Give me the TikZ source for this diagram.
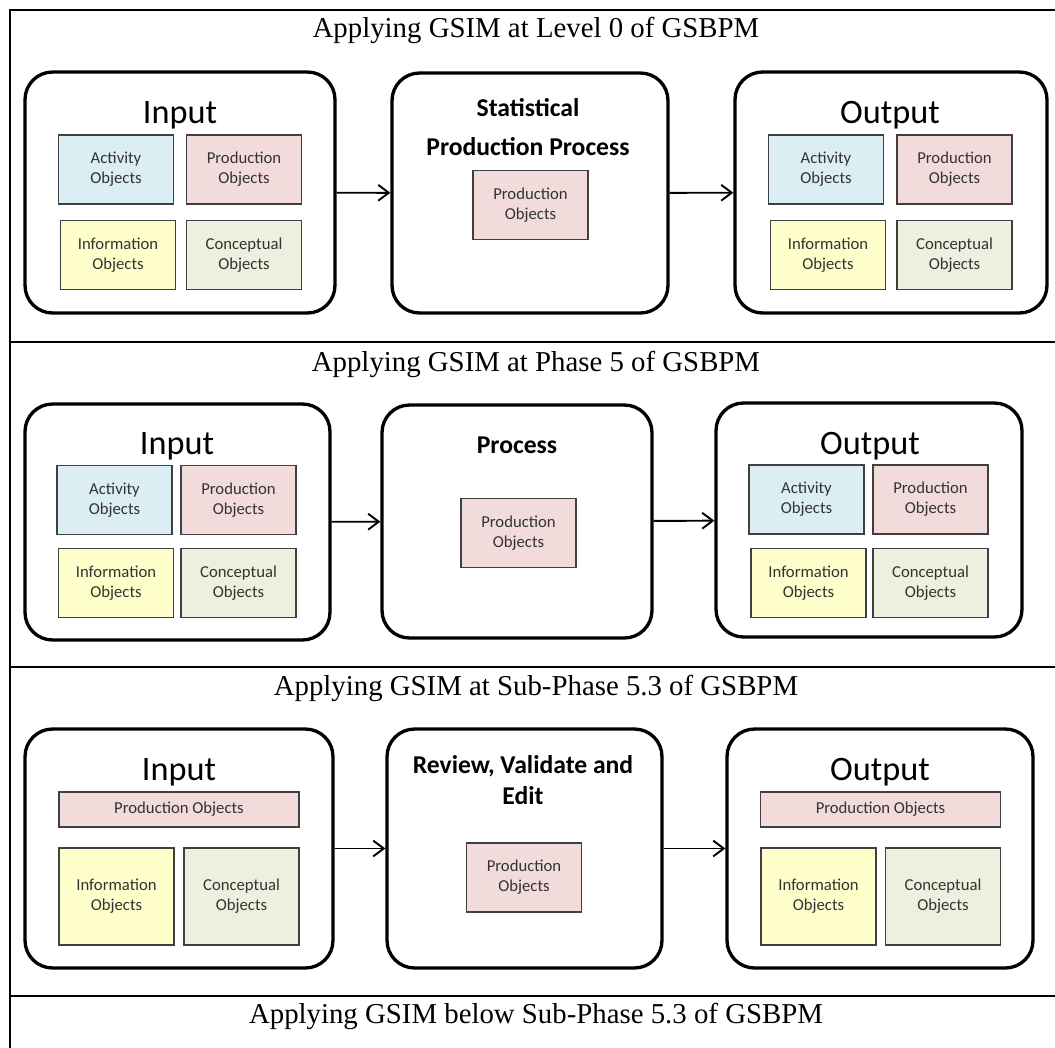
\documentclass[tikz,border=0pt]{standalone}
\usepackage{fontspec}
\setmainfont{Carlito}
\newfontfamily\ttlfont{Liberation Serif}
\usepackage{tikz}
\usetikzlibrary{arrows.meta}
\definecolor{actC}{HTML}{DAEEF3}
\definecolor{prodC}{HTML}{F2DCDB}
\definecolor{infoC}{HTML}{FFFFCC}
\definecolor{concC}{HTML}{EBF1DE}
\tikzset{
  ttl/.style={font=\ttlfont\fontsize{16.4}{19}\selectfont, anchor=base},
  stage/.style={draw, line width=1.9pt, rounded corners=0.55cm},
  head/.style={font=\fontsize{19.5}{22}\selectfont, anchor=base},
  proc/.style={font=\bfseries\fontsize{14.6}{22}\selectfont, align=center, anchor=base},
  obj/.style={draw=black!75, line width=0.8pt, minimum width=2.3cm, minimum height=1.38cm,
    align=center, text=black!80, font=\fontsize{9.5}{11.3}\selectfont},
  flow/.style={-{Straight Barb[length=6pt,width=9pt]}, line width=1.1pt},
  rule/.style={line width=1.1pt}
}

\begin{document}
\begin{tikzpicture}[x=0.02cm, y=-0.02cm]
\useasboundingbox (0,0) rectangle (1055,1048);
% table rules
\draw[rule] (10,1048) -- (10,10) -- (1055,10);
\draw[rule] (10,342) -- (1055,342);
\draw[rule] (10,667) -- (1055,667);
\draw[rule] (10,996) -- (1055,996);
\node[ttl] (t1) at (536,37) {Applying GSIM at Level 0 of GSBPM};
\node[ttl] (t2) at (536,371) {Applying GSIM at Phase 5 of GSBPM};
\node[ttl] (t3) at (536,695) {Applying GSIM at Sub-Phase 5.3 of GSBPM};
\node[ttl] (t4) at (536,1023) {Applying GSIM below Sub-Phase 5.3 of GSBPM};

% level 0
\node[stage, minimum width=6.2cm, minimum height=4.82cm] (in1) at (180,192.5) {};
\node[head] (in1h) at (180,123) {Input};
\node[obj, fill=actC] (in1a) at (116,169.5) {Activity\\Objects};
\node[obj, fill=prodC] (in1p) at (244,169.5) {Production\\Objects};
\node[obj, fill=infoC] (in1i) at (118,255) {Information\\Objects};
\node[obj, fill=concC] (in1c) at (244,255) {Conceptual\\Objects};
\node[stage, minimum width=5.52cm, minimum height=4.8cm] (mid1) at (530,193) {};
\node[proc] (mid1h) at (528,155) {Statistical\\Production Process};
\node[obj, fill=prodC] (mid1p) at (530.5,205) {Production\\Objects};
\node[stage, minimum width=6.24cm, minimum height=4.82cm] (out1) at (891,192.5) {};
\node[head] (out1h) at (890,123) {Output};
\node[obj, fill=actC] (out1a) at (826,169.5) {Activity\\Objects};
\node[obj, fill=prodC] (out1p) at (954.5,169.5) {Production\\Objects};
\node[obj, fill=infoC] (out1i) at (828,255) {Information\\Objects};
\node[obj, fill=concC] (out1c) at (954.5,255) {Conceptual\\Objects};
\draw[flow] (in1) -- (mid1);
\draw[flow] (mid1) -- (out1);

% phase 5
\node[stage, minimum width=6.1cm, minimum height=4.72cm] (in2) at (177.5,522) {};
\node[head] (in2h) at (177,454) {Input};
\node[obj, fill=actC] (in2a) at (114.5,500) {Activity\\Objects};
\node[obj, fill=prodC] (in2p) at (238.5,500) {Production\\Objects};
\node[obj, fill=infoC] (in2i) at (116,583) {Information\\Objects};
\node[obj, fill=concC] (in2c) at (238.5,583) {Conceptual\\Objects};
\node[stage, minimum width=5.4cm, minimum height=4.66cm] (mid2) at (517,521.5) {};
\node[proc] (mid2h) at (517,453) {Process};
\node[obj, fill=prodC] (mid2p) at (518.5,533) {Production\\Objects};
\node[stage, minimum width=6.12cm, minimum height=4.68cm] (out2) at (869,520) {};
\node[head] (out2h) at (870,454) {Output};
\node[obj, fill=actC] (out2a) at (806.5,499.5) {Activity\\Objects};
\node[obj, fill=prodC] (out2p) at (930.5,499.5) {Production\\Objects};
\node[obj, fill=infoC] (out2i) at (808.5,583) {Information\\Objects};
\node[obj, fill=concC] (out2c) at (930.5,583) {Conceptual\\Objects};
\draw[flow] (in2) -- (mid2);
\draw[flow] (mid2) -- (out2);

% sub-phase 5.3
\node[stage, minimum width=6.16cm, minimum height=4.78cm] (in3) at (179,848.5) {};
\node[head] (in3h) at (179,780) {Input};
\node[obj, fill=prodC, minimum width=4.8cm, minimum height=0.7cm] (in3p) at (179,809.5) {Production Objects};
\node[obj, fill=infoC, minimum height=1.94cm] (in3i) at (116.5,896.5) {Information\\Objects};
\node[obj, fill=concC, minimum height=1.94cm] (in3c) at (241.5,896.5) {Conceptual\\Objects};
\node[stage, minimum width=5.5cm, minimum height=4.78cm] (mid3) at (524.5,848.5) {};
\node[proc, font=\bfseries\fontsize{14.6}{17.6}\selectfont] (mid3h) at (523,804) {Review, Validate and\\Edit};
\node[obj, fill=prodC] (mid3p) at (524,877.5) {Production\\Objects};
\node[stage, minimum width=6.12cm, minimum height=4.78cm] (out3) at (880,848.5) {};
\node[head] (out3h) at (880,780) {Output};
\node[obj, fill=prodC, minimum width=4.8cm, minimum height=0.7cm] (out3p) at (880.5,809.5) {Production Objects};
\node[obj, fill=infoC, minimum height=1.94cm] (out3i) at (818.5,896.5) {Information\\Objects};
\node[obj, fill=concC, minimum height=1.94cm] (out3c) at (943,896.5) {Conceptual\\Objects};
\draw[flow] (in3) -- (mid3);
\draw[flow] (mid3) -- (out3);
\end{tikzpicture}
\end{document}
